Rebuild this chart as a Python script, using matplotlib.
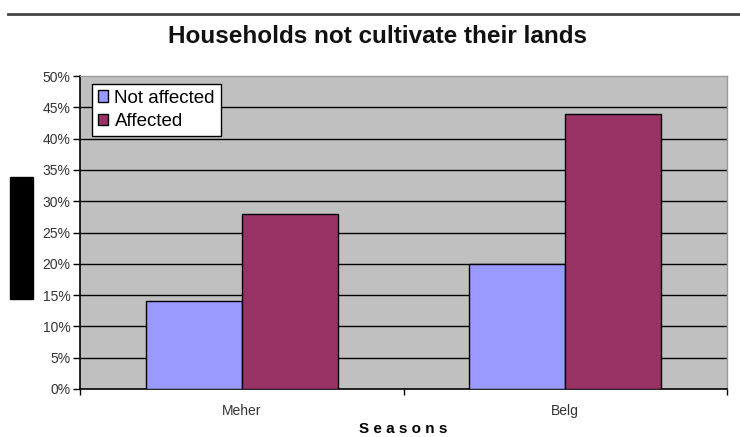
import matplotlib.pyplot as plt
import numpy as np
from matplotlib.patches import Rectangle

# Data
seasons = ['Meher', 'Belg']
not_affected = [14, 20]
affected = [28, 44]
y_ticks = [0, 5, 10, 15, 20, 25, 30, 35, 40, 45, 50]

plt.rcParams['font.family'] = ['Liberation Sans', 'DejaVu Sans']

fig = plt.figure(figsize=(7.4, 4.37), dpi=100)
ax = fig.add_axes([80 / 740, 1 - 389 / 437, 647 / 740, 313 / 437])
ax.set_facecolor('#C0C0C0')

x = np.arange(len(seasons)) + 0.5
w = 0.297
ax.bar(x - w / 2, not_affected, width=w, color='#9999FF', edgecolor='black',
       linewidth=1, label='Not affected', zorder=3)
ax.bar(x + w / 2, affected, width=w, color='#993366', edgecolor='black',
       linewidth=1, label='Affected', zorder=3)

ax.set_xlim(0, 2)
ax.set_ylim(0, 50)
ax.set_yticks(y_ticks)
ax.set_yticklabels([f'{v}%' for v in y_ticks], fontsize=10, color='#333333')
for v in y_ticks[1:-1]:
    ax.axhline(v, color='black', linewidth=1, zorder=1)

ax.set_xticks([0, 1, 2])
ax.set_xticklabels([])
ax.set_xticks(x, minor=True)
ax.set_xticklabels(seasons, minor=True, fontsize=10, color='#333333')
ax.tick_params(axis='x', which='minor', length=0, pad=11)
ax.tick_params(axis='x', which='major', length=4, width=1, direction='out')
ax.tick_params(axis='y', length=5, width=1, direction='out', pad=2)

for side in ['top', 'right']:
    ax.spines[side].set_color('#9a9a9a')
    ax.spines[side].set_linewidth(1)
for side in ['left', 'bottom']:
    ax.spines[side].set_color('black')
    ax.spines[side].set_linewidth(1.2)

ax.set_xlabel('S e a s o n s', fontsize=11, fontweight='bold', labelpad=3)

leg = ax.legend(loc='upper left', bbox_to_anchor=(12 / 647, 1 - 8 / 313),
                fontsize=13.5, frameon=True, fancybox=False, handlelength=0.55,
                handleheight=0.55, handletextpad=0.35, borderpad=0.3,
                labelspacing=0.35, borderaxespad=0)
leg.get_frame().set_edgecolor('black')
leg.get_frame().set_linewidth(1)
leg.get_frame().set_facecolor('white')
leg.get_frame().set_alpha(1)
leg.set_zorder(5)

fig.text(378 / 740, 1 - 43 / 437, 'Households not cultivate their lands',
         ha='center', va='baseline', fontsize=17.5, fontweight='bold',
         color='#111111')

# page decorations from the scanned document
fig.add_artist(plt.Line2D([8 / 740, 1], [1 - 14 / 437, 1 - 14 / 437],
                          color='#444444', linewidth=2))
fig.add_artist(Rectangle((10 / 740, 1 - 299 / 437), 23 / 740, 122 / 437,
                         transform=fig.transFigure, color='black'))

fig.savefig('out.png', dpi=100)
